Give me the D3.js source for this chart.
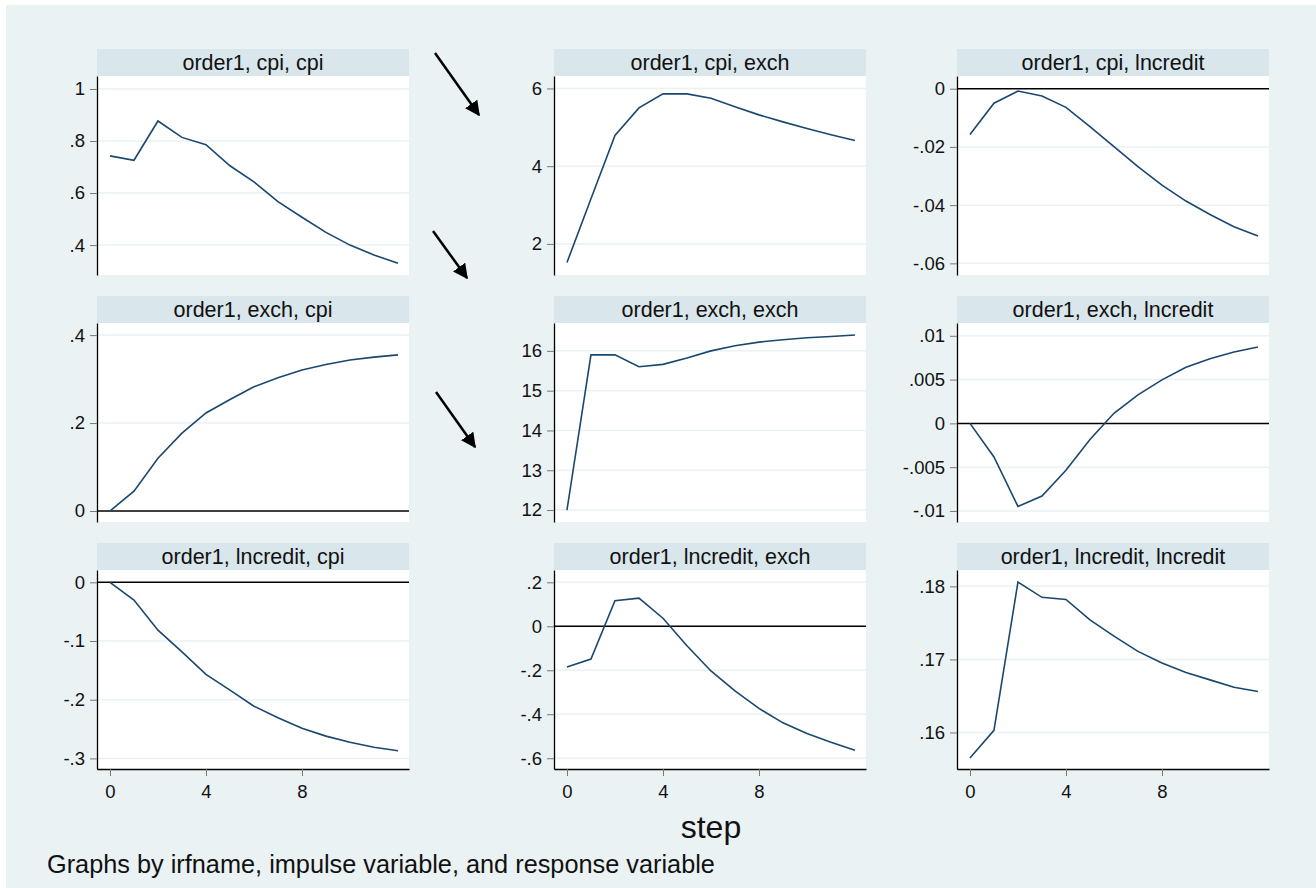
<!DOCTYPE html>
<html>
<head>
<meta charset="utf-8">
<script src="https://cdn.jsdelivr.net/npm/d3@7"></script>
<style>
  body { margin: 0; background: #fff; }
  svg { display: block; font-family: "Liberation Sans", Arial, sans-serif; }
</style>
</head>
<body>
<svg id="chart" width="1316" height="888"></svg>
<script>
// ── data: impulse responses, steps 0..12 ──
var steps = [0, 1, 2, 3, 4, 5, 6, 7, 8, 9, 10, 11, 12];
var xTicks = [0, 4, 8];

var titles = [
  'order1, cpi, cpi', 'order1, cpi, exch', 'order1, cpi, lncredit',
  'order1, exch, cpi', 'order1, exch, exch', 'order1, exch, lncredit',
  'order1, lncredit, cpi', 'order1, lncredit, exch', 'order1, lncredit, lncredit'
];

var cpiCpi = [.743, .726, .877, .814, .786, .705, .643, .567, .507, .449, .400, .362, .330];
var cpiExch = [1.52, 3.16, 4.79, 5.50, 5.86, 5.86, 5.75, 5.53, 5.32, 5.14, 4.97, 4.81, 4.66];
var cpiLncredit = [-.0157, -.0050, -.0008, -.0025, -.0064, -.0130, -.0199, -.0268, -.0331, -.0386, -.0432, -.0474, -.0506];
var exchCpi = [0, .045, .120, .177, .223, .2535, .2825, .303, .3206, .333, .3435, .350, .355];
var exchExch = [12.0, 15.9, 15.9, 15.6, 15.66, 15.82, 16.0, 16.13, 16.22, 16.28, 16.33, 16.36, 16.4];
var exchLncredit = [0, -.00383, -.00948, -.0083, -.00536, -.00184, .00115, .00325, .00497, .0064, .00737, .00814, .00871];
var lncreditCpi = [0, -.0302, -.0815, -.1186, -.1567, -.1835, -.211, -.2308, -.2485, -.262, -.2724, -.281, -.287];
var lncreditExch = [-.185, -.149, .116, .128, .0366, -.0887, -.203, -.294, -.3735, -.439, -.488, -.5275, -.564];
var lncreditLncredit = [.1565, .1603, .1806, .1785, .1782, .1754, .1732, .1711, .1695, .1682, .1672, .1662, .1656];

var yTicks = [
  [.4, .6, .8, 1], [2, 4, 6], [0, -.02, -.04, -.06],
  [0, .2, .4], [12, 13, 14, 15, 16], [-.01, -.005, 0, .005, .01],
  [0, -.1, -.2, -.3], [.2, 0, -.2, -.4, -.6], [.16, .17, .18]
];
var yDomains = [
  [.285, 1.05], [1.2, 6.32], [-.064, .00436],
  [-.025, .4275], [11.7, 16.7], [-.01126, .01146],
  [-.318, .021], [-.649, .256], [.155, .18224]
];
var series = [cpiCpi, cpiExch, cpiLncredit, exchCpi, exchExch, exchLncredit,
              lncreditCpi, lncreditExch, lncreditLncredit];

// ── layout ──
var colX = [97, 554, 957];
var rowY = [49, 296, 543];
var panelW = 312, headH = 27, plotH = 199;
var FONT = '"Liberation Sans", Arial, sans-serif';

var svg = d3.select('#chart');
svg.append('rect').attr('x', 6).attr('y', 5).attr('width', 1310).attr('height', 883).attr('fill', '#eaf2f3');

var defs = svg.append('defs');
defs.append('marker').attr('id', 'arrow')
  .attr('viewBox', '0 0 10 10').attr('refX', 9).attr('refY', 5)
  .attr('markerWidth', 6).attr('markerHeight', 6).attr('orient', 'auto')
  .attr('markerUnits', 'strokeWidth')
  .append('path').attr('d', 'M0,0 L10,5 L0,10 Z').attr('fill', '#000');

// Stata style labels: drop the leading zero
function fmtTick(v) {
  var s = String(+v.toFixed(4));
  return s.replace(/^0\./, '.').replace(/^-0\./, '-.');
}

var x = d3.scaleLinear().domain([-0.54, 12.46]).range([0, panelW]);

series.forEach(function(vals, i) {
  var r = Math.floor(i / 3), c = i % 3;
  var g = svg.append('g').attr('transform', 'translate(' + colX[c] + ',' + rowY[r] + ')');

  g.append('rect').attr('width', panelW).attr('height', headH).attr('fill', '#d9e6eb');
  g.append('text').attr('x', panelW / 2).attr('y', 21)
    .attr('text-anchor', 'middle').attr('font-size', 21.5).attr('fill', '#111')
    .text(titles[i]);

  var p = g.append('g').attr('transform', 'translate(0,' + headH + ')');
  p.append('rect').attr('width', panelW).attr('height', plotH).attr('fill', '#fff');

  var y = d3.scaleLinear().domain(yDomains[i]).range([plotH, 0]);

  // grid
  p.selectAll('line.grid').data(yTicks[i].filter(function(t) { return t !== 0; }))
    .join('line').attr('class', 'grid')
    .attr('x1', 0).attr('x2', panelW)
    .attr('y1', function(d) { return y(d); }).attr('y2', function(d) { return y(d); })
    .attr('stroke', '#eaf2f3').attr('stroke-width', 1.5);

  // zero reference line
  if (yDomains[i][0] < 0 && yDomains[i][1] > 0) {
    p.append('line').attr('x1', 0).attr('x2', panelW)
      .attr('y1', y(0)).attr('y2', y(0))
      .attr('stroke', '#000').attr('stroke-width', 1.5);
  }

  var line = d3.line().x(function(d, k) { return x(steps[k]); }).y(function(d) { return y(d); });
  p.append('path').datum(vals).attr('d', line)
    .attr('fill', 'none').attr('stroke', '#1a476f').attr('stroke-width', 1.6);

  var yAxis = p.append('g').call(d3.axisLeft(y).tickValues(yTicks[i]).tickFormat(fmtTick)
    .tickSizeOuter(0).tickSizeInner(7).tickPadding(5));
  yAxis.select('.domain').attr('stroke', '#000').attr('stroke-width', 1.3);
  yAxis.selectAll('.tick line').attr('stroke', '#777');
  yAxis.selectAll('.tick text').attr('font-size', 18.5).attr('fill', '#111')
    .attr('font-family', FONT);

  if (r === 2) {
    var xAxis = p.append('g').attr('transform', 'translate(0,' + plotH + ')')
      .call(d3.axisBottom(x).tickValues(xTicks).tickFormat(d3.format('d'))
        .tickSizeOuter(0).tickSizeInner(7).tickPadding(9));
    xAxis.select('.domain').attr('stroke', '#000').attr('stroke-width', 1.3);
    xAxis.selectAll('.tick line').attr('stroke', '#777');
    xAxis.selectAll('.tick text').attr('font-size', 18.5).attr('fill', '#111')
      .attr('font-family', FONT);
  }
});

// axis title and note
svg.append('text').attr('x', colX[1] + x(6)).attr('y', 838)
  .attr('text-anchor', 'middle').attr('font-size', 32).attr('fill', '#111').text('step');
svg.append('text').attr('x', 47).attr('y', 873)
  .attr('font-size', 25.3).attr('fill', '#111')
  .text('Graphs by irfname, impulse variable, and response variable');

// hand-drawn arrows in the gaps
var arrows = [
  [[435, 53], [479, 115]],
  [[433, 231], [467, 278]],
  [[436, 392], [475, 447]]
];
svg.selectAll('line.arrow').data(arrows).join('line').attr('class', 'arrow')
  .attr('x1', function(d) { return d[0][0]; }).attr('y1', function(d) { return d[0][1]; })
  .attr('x2', function(d) { return d[1][0]; }).attr('y2', function(d) { return d[1][1]; })
  .attr('stroke', '#000').attr('stroke-width', 2.5).attr('marker-end', 'url(#arrow)');
</script>
</body>
</html>
